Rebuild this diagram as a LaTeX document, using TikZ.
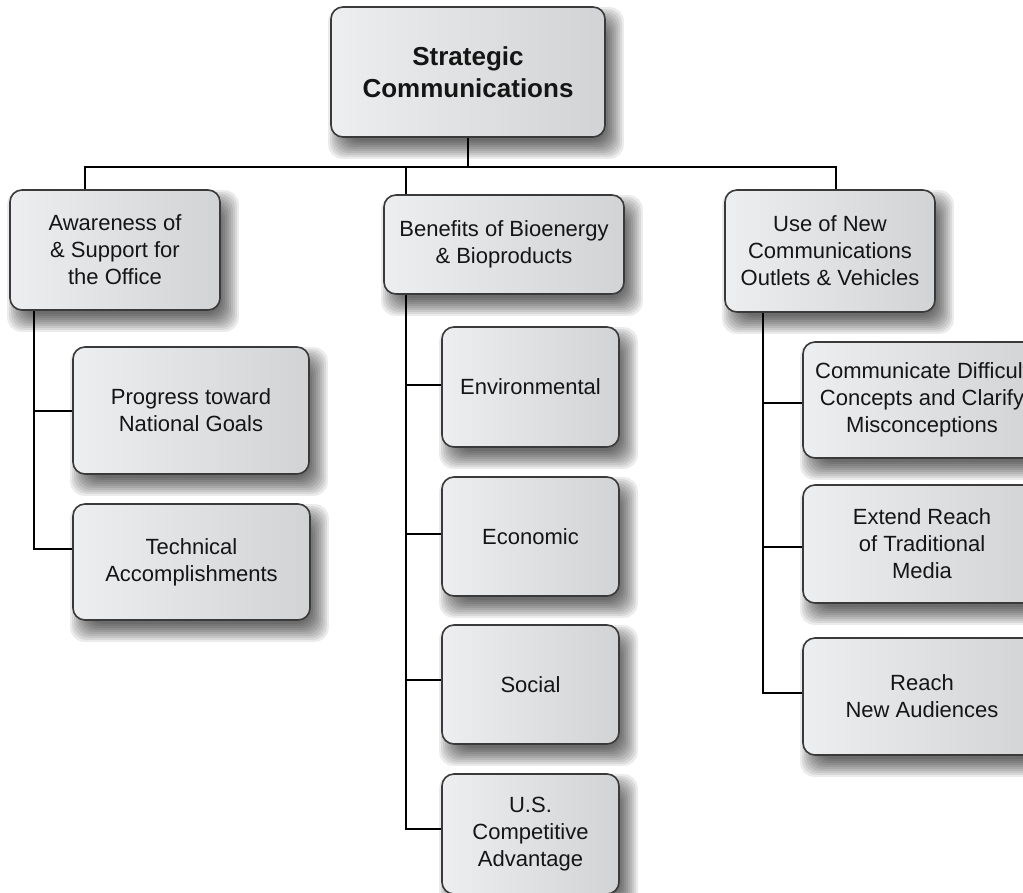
\documentclass[tikz,border=0pt]{standalone}
\usepackage{fontspec}
\setmainfont{Liberation Sans}
\usetikzlibrary{backgrounds}
\definecolor{boxL}{HTML}{EDEEEF}
\definecolor{boxR}{HTML}{D2D3D5}
\definecolor{edge}{HTML}{3A3A3A}
\definecolor{ink}{HTML}{151515}
\tikzset{
  card/.style={rectangle, rounded corners=12pt, draw=edge, line width=1.6pt,
    left color=boxL, right color=boxR, inner sep=0pt, align=center, text=ink,
    font=\fontsize{22}{27}\selectfont},
  wire/.style={line width=2pt, black},
}
\begin{document}
\begin{tikzpicture}[x=1pt,y=-1pt]
\clip (0,0) rectangle (1023,892);
% boxes
\node[card, minimum width=274pt, minimum height=130pt, font=\bfseries\fontsize{26}{32}\selectfont] (top) at (468,72) {Strategic\\Communications};
\node[card, minimum width=210pt, minimum height=120pt] (aw) at (115,250) {Awareness of\\\& Support for\\the Office};
\node[card, minimum width=240pt, minimum height=99pt] (ben) at (504,244.5) {Benefits of Bioenergy\\\& Bioproducts};
\node[card, minimum width=210pt, minimum height=122pt] (use) at (830,251) {Use of New\\Communications\\Outlets \& Vehicles};
\node[card, minimum width=236pt, minimum height=127pt] (prog) at (191,410.5) {Progress toward\\National Goals};
\node[card, minimum width=237pt, minimum height=116pt] (tech) at (191.5,562) {Technical\\Accomplishments};
\node[card, minimum width=177pt, minimum height=120pt] (env) at (530.5,387) {Environmental};
\node[card, minimum width=177pt, minimum height=119pt] (eco) at (530.5,536.5) {Economic};
\node[card, minimum width=177pt, minimum height=119pt] (soc) at (530.5,684.5) {Social};
\node[card, minimum width=177pt, minimum height=120pt] (us) at (530.5,834) {U.S.\\Competitive\\Advantage};
\node[card, minimum width=238pt, minimum height=116pt] (comm) at (922,400) {Communicate Difficult\\Concepts and Clarify\\Misconceptions};
\node[card, minimum width=238pt, minimum height=118pt] (ext) at (922,544) {Extend Reach\\of Traditional\\Media};
\node[card, minimum width=238pt, minimum height=117pt] (reach) at (922,696.5) {Reach\\New Audiences};
% shadows
\begin{scope}[on background layer]
  \fill[white] (0,0) rectangle (1023,892);
  \foreach \n in {top,aw,ben,use,prog,tech,env,eco,soc,us,comm,ext,reach}{
    \foreach \k [evaluate=\k as \ea using 2*\k-2, evaluate=\k as \eb using 2*\k+1,
                 evaluate=\k as \fa using 18-2*\k, evaluate=\k as \fb using 21-2*\k] in {0,...,9}{
      \fill[black, fill opacity=0.08, rounded corners=14pt]
        ([shift={(\ea,\eb)}]\n.north west) rectangle ([shift={(\fa,\fb)}]\n.south east);
    }
  }
\end{scope}
% connectors
\coordinate (busL) at (85,167);
\coordinate (busM) at (406,167);
\coordinate (busR) at (836,167);
\draw[wire] (top.south) -- (top.south |- busL);
\draw[wire] (aw.north -| busL) -- (busL) -- (busR) -- (use.north -| busR);
\draw[wire] (busM) -- (ben.north -| busM);
% left spine
\coordinate (spA) at (34,549);
\draw[wire] (aw.south -| spA) -- (spA) -- (spA -| tech.west);
\draw[wire] (prog.west -| spA) -- (prog.west);
% middle spine
\coordinate (spB) at (406,829);
\coordinate (tB1) at (406,385);
\coordinate (tB2) at (406,534);
\coordinate (tB3) at (406,680);
\draw[wire] (ben.south -| spB) -- (spB) -- (spB -| us.west);
\draw[wire] (tB1) -- (tB1 -| env.west);
\draw[wire] (tB2) -- (tB2 -| eco.west);
\draw[wire] (tB3) -- (tB3 -| soc.west);
% right spine
\coordinate (spC) at (763,693);
\coordinate (tC1) at (763,403);
\coordinate (tC2) at (763,547);
\draw[wire] (use.south -| spC) -- (spC) -- (spC -| reach.west);
\draw[wire] (tC1) -- (tC1 -| comm.west);
\draw[wire] (tC2) -- (tC2 -| ext.west);
\end{tikzpicture}
\end{document}
